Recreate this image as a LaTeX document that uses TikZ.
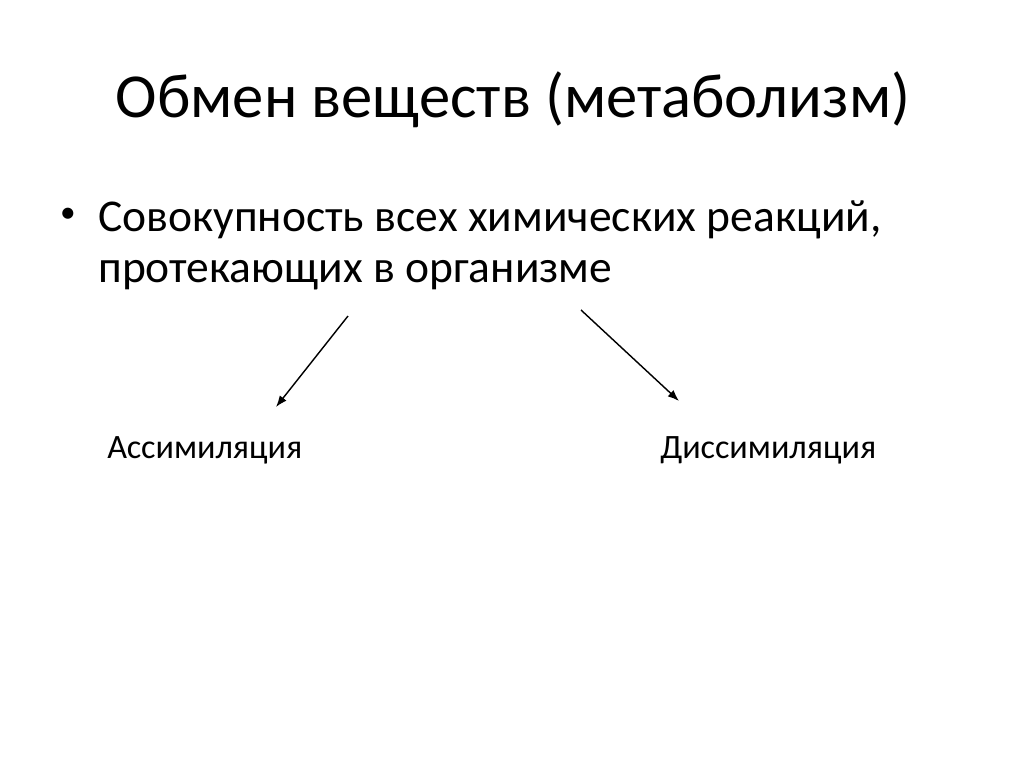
\documentclass[tikz,border=0pt]{standalone}
\usepackage{fontspec}
\setmainfont{Carlito}
\usetikzlibrary{arrows.meta}
\begin{document}
\begin{tikzpicture}[x=0.703pt,y=-0.703pt,
  txt/.style={inner sep=0pt,anchor=base west,text=black},
  arr/.style={-{Latex[length=8pt,width=6pt]},line width=1pt}]
\useasboundingbox[fill=white] (0,0) rectangle (1024,767);
\node[inner sep=0pt,anchor=base] (title) at (513,117) {\fontsize{44}{52}\selectfont Обмен веществ (метаболизм)};
\node[inner sep=0pt,anchor=center] (bullet) at (68,215) {\fontsize{22}{26}\selectfont •};
\node[txt] (l1) at (98,231) {\fontsize{32}{38}\selectfont Совокупность всех химических реакций,};
\node[txt] (l2) at (98,282) {\fontsize{32}{38}\selectfont протекающих в организме};
\node[txt] (a) at (107,458) {\fontsize{24}{29}\selectfont Ассимиляция};
\node[txt] (d) at (660,458) {\fontsize{24}{29}\selectfont Диссимиляция};
\coordinate (s1) at (348,316);
\coordinate (e1) at (276,407);
\coordinate (s2) at (581,310);
\coordinate (e2) at (679,401);
\draw[arr] (s1) -- (e1);
\draw[arr] (s2) -- (e2);
\end{tikzpicture}
\end{document}
